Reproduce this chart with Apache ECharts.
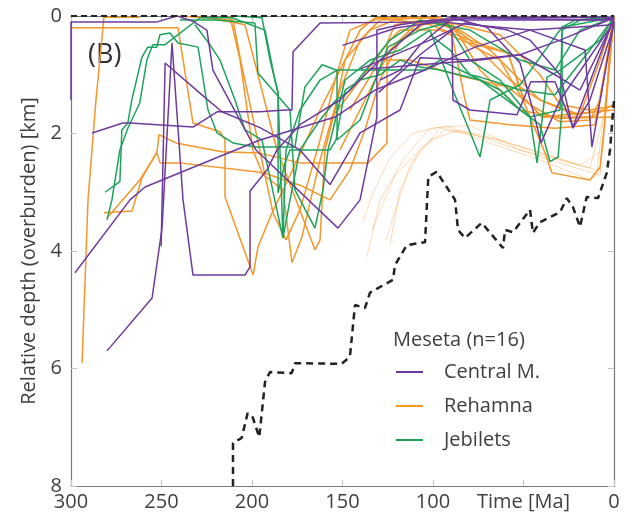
<!DOCTYPE html>
<html><head><meta charset="utf-8">
<script src="https://cdn.jsdelivr.net/npm/echarts@6/dist/echarts.min.js"></script>
<style>html,body{margin:0;padding:0;background:#fff}#c{width:635px;height:518px}</style>
</head><body><div id="c"></div>
<script>
// ---- data (time [Ma], relative depth [km]) ----
const xTicks = [300, 250, 200, 150, 100, 50, 0];
const yTicks = [0, 2, 4, 6, 8];
const xLabelOverride = { 50: 'Time [Ma]' };
const legendTitle = 'Meseta (n=16)';
const groupNames = ['Central M.', 'Rehamna', 'Jebilets'];

const centralM = [
  [[300,1.43],[300,0.10],[252.5,0.10],[241.4,0],[232.6,0.09],[224.9,0.24],[221.6,0.92],[197.8,2.28],[152.5,3.61],[140.3,3.13],[131,1.72],[131,0.24],[118.2,0.15],[100,0.07],[7.7,0.07],[0,0.03]],
  [[297.8,4.37],[267.4,3.13],[259.1,2.91],[195.6,2.11],[154.1,1.72],[132,1.26],[104.4,0.92],[76.8,0.53],[46.4,0.24],[0,0.15]],
  [[280.1,5.70],[255.2,4.80],[249.7,3.61],[244.2,0.46],[238.1,3.13],[232.6,4.41],[203.9,4.41],[201.1,4.27],[201.1,2.98],[191.7,2.62],[186.2,2.28],[173.5,1.85],[151.4,1.43],[129.3,0.75],[107.2,0.15],[90.6,0.03],[0,0.07]],
  [[288.4,1.99],[271.3,1.82],[267.4,1.82],[232.6,1.89],[219.3,1.63],[195.6,1.63],[181.8,1.60],[177.9,1.60],[177.3,0.61],[162.4,0.12],[96.1,0.10],[79.6,0.03],[0,0.02]],
  [[250.2,3.92],[248,0.80],[225.9,1.39],[216.6,1.63],[195.6,1.90],[173.5,2.28],[156.9,2.87],[140.3,1.99],[118.2,1.6],[107.2,0.71],[79.6,0.75],[51.9,0.66],[29.8,0.41],[0,0.03]],
  [[129.3,1.09],[118.2,0.92],[107.2,0.49],[89,0.03],[70.2,0.19],[51.9,0.80],[44.8,1.6],[40.3,2.16],[29.8,1.43],[0,0.10]],
  [[130,1.3],[107.2,0.66],[89.5,0.24],[89,1.43],[79.6,1.60],[53.6,1.68],[45.9,1.12],[32.6,1.12],[22.7,1.89],[0,0.03]],
  [[150,0.5],[120,0.2],[96.1,0.10],[46.4,0.24],[16,0.58],[12.2,2.23],[0,0.10]],
  [[140,0.9],[101.7,0.41],[82.3,0.12],[58.6,0.24],[46.4,0.41],[29.8,1.0],[22.7,1.91],[13.3,1.43],[0,0.15]],
  [[135,0.9],[107.2,0.83],[74,0.75],[51.9,0.66],[32.6,1.0],[18.8,1.26],[0,0.07]]
];

const rehamna = [
  [[293.9,5.91],[290.6,3.13],[286.2,1.43],[281.8,0.02],[261.9,0.02]],
  [[300,0.2],[240.9,0.2],[232.6,1.82],[217.7,1.97],[214.9,2.11],[214.9,3.08],[199.4,4.41],[196.7,3.93],[188.9,3.35],[172.4,2.28],[162.4,1.6],[148.6,0.75],[134.8,0.24],[118.2,0.03],[96.1,0.02],[79.6,0.41],[58.6,0.63],[50.3,1.38],[39.8,1.72],[0,1.6]],
  [[281.8,3.35],[266.3,3.32],[260.8,2.76],[252.5,2.31],[251.4,2.02],[242,2.16],[216.6,2.31],[196.2,2.33],[173.5,2.5],[135.9,2.5],[125.4,2.16],[125.4,0.46],[121,0.15],[107.2,0.07],[85.1,0.24],[68.5,0.58],[40.9,1.43],[18.8,1.68],[7.7,0.75],[0,0]],
  [[280.1,3.44],[262,2.79],[252.5,2.33],[250.8,2.5],[239.8,2.5],[195.6,2.66],[182.9,2.96],[177.9,4.2],[172.4,3.76],[162.4,2.45],[151.4,1.26],[140.3,0.41],[129.3,0.07],[101.7,0.03],[63,0.32],[40.9,1.0],[29.8,1.51],[13.3,1.6],[0,1.53]],
  [[228.7,0],[203.9,0.15],[196.7,1.0],[186.2,2.28],[165.2,3.98],[162.4,3.81],[159.7,2.28],[154.1,1.6],[148.6,0.75],[140.3,0.24],[132,0.03],[96.1,0.03],[79.6,0.49],[63,0.75],[50.3,1.43],[38.1,2.33],[34.3,2.67],[13.3,2.79],[7.7,2.57],[5,1.77],[1.1,0.02]],
  [[212.2,0],[206.6,0.75],[199.5,2.28],[194.5,2.66],[173.5,2.88],[156.9,3.13],[145.9,2.62],[137.6,1.94],[129.3,1.09],[118.2,0.41],[101.7,0.07],[90.6,0.07],[74,0.92],[51.9,1.6],[29.8,1.74],[0,1.72]],
  [[156.9,1.77],[140.3,1.09],[123.8,0.41],[118.2,0.24],[96.1,0.24],[82.3,0.44],[58.6,0.63],[50.3,1.38],[39.8,1.72],[18.8,1.72],[12.2,1.72],[0.6,1.51]],
  [[145.9,1.6],[129.3,0.75],[112.7,0.75],[96.1,0.92],[82.3,1.04],[58.6,1.21],[46.4,1.51],[29.8,1.8],[13.3,1.77],[7.7,1.43],[0,0.02]],
  [[151.4,2.28],[137.6,1.43],[123.8,0.58],[107.2,0.07],[90.6,0.15],[82.3,1.43],[79.6,1.77],[57.5,1.85],[32.6,1.91],[10.5,1.85],[1.1,0.24]],
  [[239.8,0],[210.5,0.07],[206.1,0.78],[196.7,2.14],[188.4,3.35],[181.2,3.81],[173.5,3.3],[162.4,2.11],[154.1,1.09],[145.9,0.24],[129.3,0.03],[101.7,0.15],[79.6,0.41],[57.5,1.09],[40.9,1.43],[21.5,1.68],[5,1.6],[0,0]]
];

const jebilets = [
  [[281.2,3.0],[273,2.82],[271.9,1.94],[268.6,1.82],[266.4,1.43],[260.9,0.71],[257.6,0.53],[252.6,0.53],[250.9,0.32],[245.3,0.29],[240.9,0.46],[229.8,0.53],[224.3,1.6],[219.3,1.99],[210.5,2.16],[198.4,2.23],[176.3,2.23],[170.8,1.21],[161.3,0.83],[153.5,0.92],[104.4,0.92],[96.1,0.75],[79.6,1.0],[74,1.04],[65.8,1.12],[51.9,1.26],[32.6,1.34],[13.3,0.58],[0,0.02]],
  [[280.1,3.47],[277.4,3.13],[273,2.28],[268.6,1.91],[262,1.48],[258.1,0.75],[254.8,0.49],[248.2,0.49],[228.7,0.03],[211,0.03],[192.8,0.24],[187.3,1.09],[185.6,1.31],[182.9,3.78],[181.2,2.28],[173.5,1.6],[162.4,1.09],[153,0.92],[153,2.11],[140.3,1.77],[125,0.53],[107.2,0.24],[92.3,0.12],[79.6,0.75],[63,1.09],[46.4,1.72],[42.5,2.5],[37,1.04],[29.8,0.92],[7.7,0.41],[0,0.02]],
  [[239.8,0.07],[220.5,0.07],[198.4,0.12],[196.7,0.97],[179,1.6],[176.3,2.96],[165.2,3.61],[160.8,2.96],[158,2.28],[148.6,1.09],[134.8,0.75],[118.2,0.58],[101.7,0.24],[89,1.26],[74,2.40],[68.5,1.43],[51.9,1.17],[28.7,0.19],[0,0.02]],
  [[209.4,0],[194.5,0.03],[190,0.75],[185.6,1.31],[185.6,3.01],[181.8,2.5],[179,2.28],[173.5,2.28],[156.9,2.28],[153.6,2.11],[148.6,1.26],[140.3,1.09],[129.3,1.0],[118.2,0.75],[107.2,0.87],[96.1,0.92],[74,1.09],[46.4,1.72],[29.8,1.6],[28.7,0.24],[18.8,0.07],[0,0.02]],
  [[231.5,0.15],[223.2,0.49],[217.7,0.75],[209.4,1.43],[203.9,1.94],[194.5,2.11],[182.9,3.78],[179,3.13],[173.5,2.28],[162.4,1.77],[153.6,1.43],[145.9,1.26],[123.8,0.41],[107.2,0.07],[79.6,0.24],[51.9,0.75],[32.6,0.92],[18.8,0.24],[0,0.02]],
  [[101.7,0.32],[90.6,0.58],[79.6,1.0],[63,1.26],[51.9,1.6],[40.9,1.85],[35.4,2.48],[30.9,2.4],[28.7,1.6],[28.7,0.19],[21.5,0.07],[0,0.02]]
];

const faded = [
  [[138.7,3.5],[133.2,3.01],[123.8,2.42],[111.1,1.99],[92.3,1.87],[74,2.11],[40.9,2.45],[13.3,2.79],[7.7,2.65],[2.2,0.75],[0,0.03]],
  [[136.5,4.1],[129.3,3.13],[115.5,2.4],[101.7,1.91],[79.6,1.86],[51.9,2.28],[9.4,2.62],[3.3,1.09],[0,0.03]],
  [[123.8,3.9],[118.2,2.96],[107.2,2.28],[93.4,1.94],[63,2.11],[13.3,2.59],[5,1.6],[0,0.07]],
  [[133.7,3.64],[121,2.71],[101.7,2.11],[85.1,1.94],[35.4,2.45],[7.7,2.71],[1.1,0.41]],
  [[126,3.81],[112.7,2.54],[96.1,1.91],[74,2.02],[18.8,2.54],[6.1,2.28],[0,0]]
];

const burial = [[210.5,8.0],[210.5,7.27],[205.7,7.18],[202.4,6.76],[199.6,6.83],[196.0,7.17],[192.8,6.23],[190.1,6.06],[178.1,6.08],[176.2,5.91],[150.4,5.92],[145.9,5.80],[143.1,4.92],[137.6,4.97],[134.8,4.71],[122.1,4.49],[121.0,4.24],[114.5,3.90],[104.4,3.85],[102.6,2.74],[98.0,2.65],[87.8,3.13],[86.2,3.64],[82.3,3.78],[73.1,3.52],[61.3,3.95],[60.2,3.64],[55.8,3.68],[46.4,3.30],[44.8,3.69],[40.9,3.51],[29.8,3.34],[26.1,3.10],[22.7,3.25],[18.8,3.59],[15.1,3.08],[8.8,3.10],[4.0,2.67],[2.2,2.28],[0.6,1.65],[0,1.45]];
const surface = [[300,0],[0,0]];

// ---- chart ----
const COLORS = { 'Central M.': '#6f3a9e', 'Rehamna': '#f5962a', 'Jebilets': '#1da35c' };
const FONT = '"Open Sans", "Noto Sans", sans-serif';
const series = [];
function addGroup(paths, name, color, width, opacity, z) {
  paths.forEach(p => series.push({
    type: 'line', name: name, data: p, symbol: 'none', clip: false, silent: true, z: z,
    lineStyle: { color: color, width: width, opacity: opacity }, itemStyle: { color: color }
  }));
}
addGroup(faded, 'faded', '#f5962a', 1, 0.35, 1);
addGroup(rehamna, groupNames[1], COLORS['Rehamna'], 1.5, 1, 2);
addGroup(jebilets, groupNames[2], COLORS['Jebilets'], 1.5, 1, 3);
addGroup(centralM, groupNames[0], COLORS['Central M.'], 1.5, 1, 4);
series.push({ type: 'line', name: 'burial', data: burial, symbol: 'none', clip: false, silent: true, z: 5,
  lineStyle: { color: '#222', width: 2.5, type: [7, 5] } });
series.push({ type: 'line', name: 'surface', data: surface, symbol: 'none', clip: false, silent: true, z: 6,
  lineStyle: { color: '#222', width: 2, type: [6, 4] } });

const axisCommon = {
  type: 'value', min: 0, splitLine: { show: false },
  axisLine: { show: true, onZero: false, lineStyle: { color: '#7a7a7a', width: 1.2 } },
  axisTick: { show: true, inside: true, length: 6, lineStyle: { color: '#c4c4c4' } }
};
const chart = echarts.init(document.getElementById('c'), null, { renderer: 'canvas' });
chart.setOption({
  animation: false,
  backgroundColor: '#fff',
  grid: { left: 71, right: 21, top: 16, bottom: 32 },
  xAxis: [
    Object.assign({}, axisCommon, { max: 300, interval: 50, inverse: true, position: 'bottom',
      axisLabel: { color: '#404040', fontSize: 20, fontFamily: FONT, margin: 6,
        formatter: v => (xLabelOverride[v] !== undefined ? xLabelOverride[v] : String(v)) } }),
    Object.assign({}, axisCommon, { max: 300, interval: 50, inverse: true, position: 'top', axisLabel: { show: false } })
  ],
  yAxis: [
    Object.assign({}, axisCommon, { max: 8, interval: 2, inverse: true, position: 'left',
      name: 'Relative depth (overburden) [km]', nameLocation: 'middle', nameGap: 30,
      nameTextStyle: { color: '#404040', fontSize: 20, fontFamily: FONT },
      axisLabel: { color: '#404040', fontSize: 20, fontFamily: FONT, margin: 9 } }),
    Object.assign({}, axisCommon, { max: 8, interval: 2, inverse: true, position: 'right', axisLabel: { show: false } })
  ],
  legend: {
    data: groupNames.map(n => ({ name: n, itemStyle: { color: COLORS[n] } })),
    orient: 'vertical', left: 396, top: 362, itemGap: 14, itemWidth: 27, itemHeight: 2, icon: 'rect',
    padding: 0, selectedMode: false,
    textStyle: { color: '#404040', fontSize: 20, fontFamily: FONT, padding: [0, 0, 0, 16] }
  },
  graphic: [
    { type: 'text', left: 393, top: 330, style: { text: legendTitle, fill: '#404040', font: '20px ' + FONT } },
    { type: 'text', left: 88, top: 42, style: { text: '(B)', fill: '#333', font: '27px ' + FONT } }
  ],
  series: series
});
</script></body></html>
